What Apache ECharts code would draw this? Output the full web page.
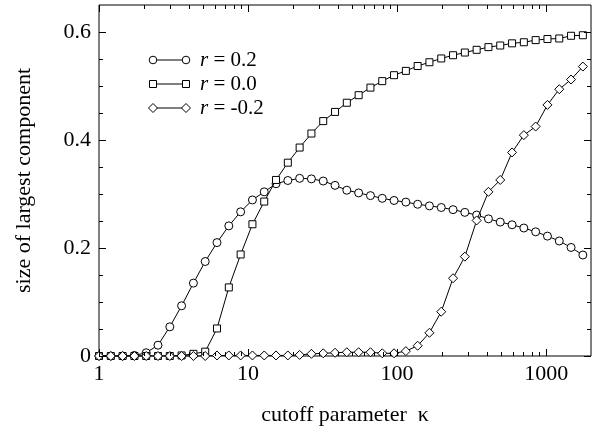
<!DOCTYPE html>
<html>
<head>
<meta charset="utf-8">
<script src="https://cdn.jsdelivr.net/npm/echarts@6/dist/echarts.min.js"></script>
<style>html,body{margin:0;padding:0;background:#fff;}#c{width:597px;height:432px;}</style>
</head>
<body>
<div id="c"></div>
<script>
// cutoff parameter kappa (shared x positions)
const kappa = [1, 1.2, 1.44, 1.728, 2.074, 2.488, 2.986, 3.583, 4.3, 5.16, 6.19, 7.43, 8.92, 10.7, 12.84, 15.41, 18.49, 22.19, 26.62, 31.95, 38.34, 46.0, 55.2, 66.25, 79.5, 95.4, 114.5, 137.4, 164.8, 197.8, 237.4, 284.9, 341.8, 410.2, 492.2, 590.7, 708.8, 850.6, 1020.7, 1224.8, 1469.8, 1763.7];
// size of largest component
const rPos = [0, 0, 0, 0.001, 0.006, 0.020, 0.054, 0.093, 0.135, 0.175, 0.210, 0.241, 0.267, 0.289, 0.304, 0.319, 0.325, 0.329, 0.328, 0.324, 0.316, 0.307, 0.302, 0.297, 0.292, 0.288, 0.285, 0.281, 0.278, 0.275, 0.271, 0.266, 0.261, 0.254, 0.248, 0.243, 0.237, 0.230, 0.222, 0.213, 0.201, 0.187];
const rZero = [0, 0, 0, 0, 0, 0, 0, 0.001, 0.004, 0.008, 0.051, 0.127, 0.188, 0.244, 0.286, 0.326, 0.358, 0.386, 0.412, 0.435, 0.452, 0.469, 0.483, 0.497, 0.509, 0.520, 0.528, 0.537, 0.544, 0.551, 0.557, 0.562, 0.567, 0.572, 0.575, 0.579, 0.581, 0.585, 0.587, 0.588, 0.593, 0.594];
const rNeg = [0, 0, 0, 0, 0, 0, 0, 0, 0, 0, 0.001, 0.001, 0.001, 0.001, 0.001, 0.001, 0.001, 0.002, 0.004, 0.005, 0.006, 0.007, 0.007, 0.007, 0.005, 0.005, 0.009, 0.019, 0.043, 0.082, 0.144, 0.184, 0.251, 0.304, 0.326, 0.377, 0.409, 0.425, 0.465, 0.494, 0.512, 0.536];
const seriesNames = ['r = 0.2', 'r = 0.0', 'r = -0.2'];
const legendValues = ['0.2', '0.0', '-0.2'];
// tick positions (axis values)
const xMajorTicks = [1, 10, 100, 1000];
const xMinorTicks = [2,3,4,5,6,7,8,9,20,30,40,50,60,70,80,90,200,300,400,500,600,700,800,900];
const yMajorTicks = [0, 0.2, 0.4, 0.6];
const yMinorTicks = [0.05, 0.1, 0.15, 0.25, 0.3, 0.35, 0.45, 0.5, 0.55];

const FONT = '"Liberation Serif", "Times New Roman", Times, serif';
const FS = 22;
const chart = echarts.init(document.getElementById('c'));

function pairs(ys){ return kappa.map((x,i)=>[x, ys[i]]); }

const symStyle = {color: '#fff', borderColor: '#000', borderWidth: 1};
const lineStyle = {color: '#000', width: 1};
const MAJOR = 7, MINOR = 4;

function tickLine(x1, y1, x2, y2) {
  return {type: 'line', shape: {x1, y1, x2, y2}, style: {stroke: '#000', lineWidth: 1}};
}

function xTickSeries(values, len) {
  return {
    type: 'custom', silent: true, clip: false, z: 6,
    data: values.map(v => [v, 0.1]),
    encode: {x: 0, y: 1},
    renderItem: function (params, api) {
      const x = Math.round(api.coord([api.value(0), 0.1])[0]) + 0.5;
      const cs = params.coordSys;
      const yb = cs.y + cs.height;
      return {type: 'group', children: [
        tickLine(x, yb, x, yb - len),
        tickLine(x, cs.y, x, cs.y + len)
      ]};
    }
  };
}
function yTickSeries(values, len) {
  return {
    type: 'custom', silent: true, clip: false, z: 6,
    data: values.map(v => [2, v]),
    encode: {x: 0, y: 1},
    renderItem: function (params, api) {
      const y = Math.round(api.coord([2, api.value(1)])[1]) + 0.5;
      const cs = params.coordSys;
      const xr = cs.x + cs.width;
      return {type: 'group', children: [
        tickLine(cs.x, y, cs.x + len, y),
        tickLine(xr, y, xr - len, y)
      ]};
    }
  };
}

const legendGraphics = [];
const legendSymbols = ['circle', 'rect', 'diamond'];
const legendRows = [60, 84, 108];
const symbolPaths = {
  circle: (cx, cy) => ({type: 'circle', shape: {cx, cy, r: 3.8}}),
  rect: (cx, cy) => ({type: 'rect', shape: {x: cx - 3.5, y: cy - 3.5, width: 7, height: 7}}),
  diamond: (cx, cy) => ({type: 'polygon', shape: {points: [[cx, cy - 4.5], [cx + 4.5, cy], [cx, cy + 4.5], [cx - 4.5, cy]]}})
};
legendRows.forEach((y, i) => {
  legendGraphics.push({type: 'line', shape: {x1: 153, y1: y, x2: 186, y2: y}, style: {stroke: '#000', lineWidth: 1}, z: 10});
  [153, 186].forEach(cx => {
    const g = symbolPaths[legendSymbols[i]](cx, y);
    g.style = {fill: '#fff', stroke: '#000', lineWidth: 1};
    g.z = 11;
    legendGraphics.push(g);
  });
  legendGraphics.push({
    type: 'text', x: 200, y: y, z: 11,
    style: {
      text: '{i|r}{n| = ' + legendValues[i] + '}',
      fill: '#000', verticalAlign: 'middle', align: 'left',
      rich: {
        i: {fontStyle: 'italic', fontFamily: FONT, fontSize: 21, fill: '#000'},
        n: {fontFamily: FONT, fontSize: 21, fill: '#000'}
      }
    }
  });
});

chart.setOption({
  animation: false,
  backgroundColor: '#fff',
  grid: {left: 99, right: 6, top: 5, bottom: 76, show: true, borderColor: '#000', borderWidth: 1, backgroundColor: 'transparent'},
  textStyle: {fontFamily: FONT},
  xAxis: {
    type: 'log', logBase: 10, min: 1, max: 2000,
    axisLine: {show: false}, axisTick: {show: false}, splitLine: {show: false}, minorTick: {show: false},
    name: 'cutoff parameter  κ', nameLocation: 'middle', nameGap: 48,
    nameTextStyle: {fontFamily: FONT, fontSize: FS, color: '#000'},
    axisLabel: {show: true, fontFamily: FONT, fontSize: FS, color: '#000', margin: 7, showMaxLabel: false,
      formatter: v => String(Math.round(v))}
  },
  yAxis: {
    type: 'value', min: 0, max: 0.65, interval: 0.2,
    axisLine: {show: false}, axisTick: {show: false}, splitLine: {show: false},
    name: 'size of largest component', nameLocation: 'middle', nameGap: 64, nameRotate: 90,
    nameTextStyle: {fontFamily: FONT, fontSize: FS, color: '#000'},
    axisLabel: {show: true, fontFamily: FONT, fontSize: FS, color: '#000', margin: 8, showMaxLabel: false,
      formatter: v => (v === 0 ? '0' : v.toFixed(1))}
  },
  series: [
    {
      name: seriesNames[0], type: 'line', data: pairs(rPos),
      symbol: 'circle', symbolSize: 8, showAllSymbol: true,
      itemStyle: symStyle, lineStyle: lineStyle, z: 3
    },
    {
      name: seriesNames[1], type: 'line', data: pairs(rZero),
      symbol: 'rect', symbolSize: 7, showAllSymbol: true,
      itemStyle: symStyle, lineStyle: lineStyle, z: 4
    },
    {
      name: seriesNames[2], type: 'line', data: pairs(rNeg),
      symbol: 'diamond', symbolSize: 9, showAllSymbol: true,
      itemStyle: symStyle, lineStyle: lineStyle, z: 5
    },
    xTickSeries(xMajorTicks, MAJOR),
    xTickSeries(xMinorTicks, MINOR),
    yTickSeries(yMajorTicks, MAJOR),
    yTickSeries(yMinorTicks, MINOR)
  ],
  graphic: legendGraphics
});
</script>
</body>
</html>
